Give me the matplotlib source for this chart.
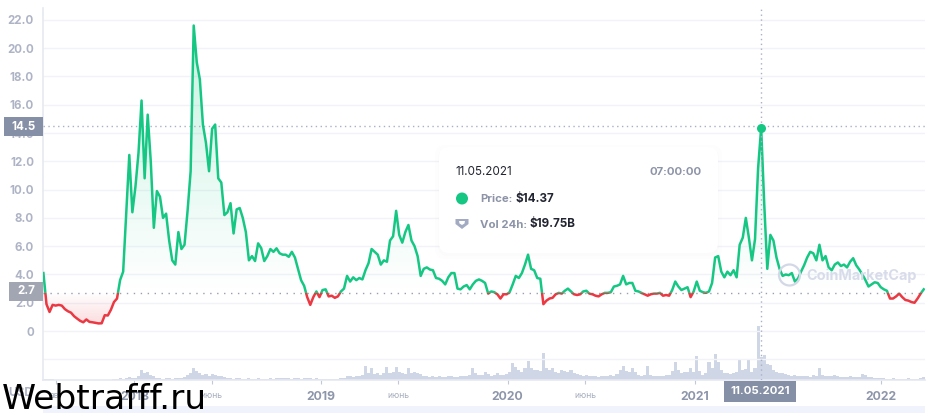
#!/usr/bin/env python3
"""Price and volume chart with tooltip, CoinMarketCap style."""

import matplotlib
matplotlib.use('Agg')
import matplotlib.pyplot as plt
import matplotlib.dates as mdates
import numpy as np
import pandas as pd
from matplotlib.patches import Circle, FancyBboxPatch, Polygon, Rectangle
from matplotlib.path import Path

plt.rcParams['font.family'] = ['Inter', 'DejaVu Sans']

# one reading every 6 days from the start of the series
start_date = '2017-07-07'
step_days = 6

price = [
    4.1, 1.9, 1.35, 1.85, 1.8, 1.85, 1.8, 1.55, 1.4, 1.3, 1.05, 0.88, 0.72, 0.62, 0.82, 0.65, 0.62, 0.58, 0.54, 0.55,
    1.12, 1.1, 1.5, 2.05, 2.3, 3.6, 4.2, 8.3, 12.45, 8.4, 10.2, 12.6, 16.3, 10.8, 15.3, 12.0, 7.3, 9.9, 9.5, 8.0,
    8.3, 6.4, 5.0, 4.7, 7.0, 5.8, 6.1, 8.5, 11.3, 21.6, 19.0, 17.8, 14.6, 13.3, 11.3, 14.3, 14.6, 10.8, 10.5, 8.2,
    8.4, 9.04, 6.9, 8.6, 8.7, 8.0, 7.0, 5.0, 5.3, 4.95, 6.2, 5.87, 4.95, 5.3, 5.8, 5.6, 5.85, 5.5, 5.4, 5.4,
    5.25, 5.6, 5.2, 4.4, 3.6, 3.2, 2.4, 1.85, 2.4, 2.8, 2.4, 2.9, 2.95, 2.45, 2.5, 2.35, 2.45, 2.8, 3.0, 3.9,
    3.5, 3.8, 3.6, 3.75, 3.65, 4.3, 4.8, 5.8, 5.6, 5.4, 4.7, 5.0, 4.9, 6.4, 6.7, 8.5, 6.8, 6.25, 7.0, 7.5,
    6.4, 6.0, 5.3, 3.9, 4.4, 4.5, 4.35, 4.3, 3.75, 3.7, 3.55, 3.3, 3.8, 4.1, 4.1, 3.0, 2.95, 3.15, 3.25, 2.95,
    3.3, 3.55, 3.65, 3.55, 3.4, 2.65, 2.8, 2.75, 2.6, 2.3, 2.6, 2.6, 2.75, 3.3, 3.9, 3.75, 4.1, 4.7, 5.4, 4.4,
    4.3, 3.75, 3.7, 1.9, 2.15, 2.3, 2.35, 2.6, 2.7, 2.65, 2.85, 3.0, 2.8, 2.6, 2.55, 2.6, 2.8, 2.85, 2.65, 2.6,
    2.5, 2.45, 2.6, 2.7, 2.7, 2.75, 3.15, 3.2, 3.3, 3.9, 3.3, 3.4, 3.4, 2.85, 2.8, 2.7, 2.6, 2.5, 2.6, 2.65,
    2.65, 2.7, 2.5, 2.55, 2.5, 2.9, 3.5, 3.15, 2.9, 3.0, 3.1, 2.4, 2.8, 3.5, 2.85, 2.75, 2.7, 2.8, 3.4, 5.2,
    5.3, 4.2, 3.8, 4.2, 3.95, 4.3, 3.8, 6.1, 6.6, 8.0, 6.6, 5.0, 6.5, 11.5, 14.37, 9.0, 4.4, 6.8, 6.4, 5.2,
    4.4, 3.9, 4.0, 3.95, 4.1, 3.5, 3.7, 4.2, 4.65, 5.2, 5.6, 5.5, 5.0, 6.1, 5.0, 5.3, 4.5, 4.3, 4.7, 4.85,
    4.6, 4.7, 4.5, 4.9, 5.15, 4.65, 4.35, 4.0, 3.6, 3.15, 3.3, 3.45, 3.4, 3.1, 2.95, 2.85, 2.3, 2.3, 2.45, 2.65,
    2.4, 2.2, 2.15, 2.05, 2.0, 2.3, 2.65, 2.95,
]

# 24h volume, $ billions
volume = [
    0.3, 0.3, 0.3, 0.3, 0.05, 0.05, 0.05, 0.05, 0.05, 0.05, 0.05, 0.05, 0.05, 0.05, 0.05, 0.05, 0.05, 0.05, 0.05, 0.05,
    0.05, 0.05, 0.05, 0.3, 0.4, 0.7, 0.5, 0.7, 1.0, 0.7, 0.9, 1.5, 3.6, 2.5, 2.9, 1.8, 1.4, 0.8, 0.7, 0.5,
    0.6, 0.8, 0.5, 0.7, 0.9, 0.8, 1.0, 1.8, 2.6, 4.4, 3.2, 2.6, 1.8, 2.2, 1.5, 2.1, 1.7, 1.3, 1.6, 1.0,
    0.8, 0.7, 0.5, 0.8, 0.6, 0.4, 0.5, 0.7, 0.4, 0.5, 0.6, 0.4, 0.4, 0.5, 0.6, 0.5, 0.6, 0.7, 0.8, 0.7,
    0.6, 0.5, 0.7, 0.6, 0.5, 0.7, 0.6, 0.7, 0.5, 0.6, 0.5, 0.4, 0.4, 0.3, 0.4, 0.3, 0.4, 0.6, 0.8, 1.3,
    1.5, 1.1, 1.6, 1.4, 1.8, 5.0, 2.5, 4.3, 2.2, 2.5, 2.0, 2.6, 4.7, 2.5, 3.0, 4.7, 3.0, 2.5, 2.2, 4.4,
    2.5, 2.8, 2.4, 2.2, 1.6, 1.4, 1.1, 1.4, 1.0, 1.5, 1.2, 1.1, 1.4, 1.6, 1.2, 1.0, 1.4, 1.5, 1.3, 2.0,
    4.3, 2.6, 2.0, 1.8, 2.8, 2.2, 1.5, 1.8, 2.5, 2.0, 1.7, 2.1, 2.9, 6.2, 4.7, 3.5, 3.0, 4.5, 6.9, 4.4,
    3.5, 3.5, 3.2, 9.8, 4.4, 3.6, 4.4, 3.0, 2.6, 3.8, 3.3, 2.8, 3.6, 2.5, 2.2, 1.8, 1.5, 1.8, 1.5, 1.4,
    1.3, 1.1, 1.5, 1.4, 1.6, 1.8, 1.6, 2.2, 3.5, 5.1, 3.2, 2.8, 4.5, 3.0, 1.8, 1.6, 2.0, 5.1, 2.0, 1.6,
    1.4, 1.5, 1.6, 1.8, 2.0, 3.2, 6.5, 3.5, 2.5, 3.0, 2.8, 4.5, 2.8, 8.7, 3.2, 2.0, 2.4, 6.5, 4.5, 9.5,
    6.5, 3.6, 2.5, 2.6, 2.2, 2.5, 2.8, 7.3, 3.5, 4.0, 7.6, 3.0, 4.3, 19.75, 8.4, 9.1, 6.0, 5.4, 3.5, 2.8,
    2.5, 2.6, 2.3, 1.8, 1.6, 1.7, 1.4, 1.3, 1.5, 1.4, 1.2, 1.8, 1.5, 4.4, 2.0, 1.6, 1.4, 1.5, 1.7, 1.3,
    1.2, 1.1, 1.2, 1.4, 1.1, 1.0, 1.2, 2.2, 1.8, 1.2, 1.0, 0.9, 0.8, 0.6, 0.7, 0.5, 0.5, 0.6, 0.5, 0.4,
    0.5, 0.5, 0.6, 0.4, 0.5, 0.5, 0.9, 1.1,
]

y_ticks = [0, 2, 4, 6, 8, 10, 12, 14, 16, 18, 20, 22]
y_grid_extra = [-2]
x_tick_dates = ['2017-08-01', '2018-01-01', '2018-06-01', '2019-01-01', '2019-06-01', '2020-01-01', '2020-06-01',
                '2021-01-01', '2022-01-01']
x_tick_labels = ['авг', '2018', 'июнь', '2019', 'июнь', '2020', 'июнь', '2021', '2022']
baseline = 2.7
hover_price = 14.5
hover_date = '2021-05-11'

# Colors
green = '#16c784'
red = '#ea3943'
grid_c = '#f1f3f8'
axis_c = '#e6e9f2'
label_c = '#aeb4c6'
year_c = '#8e96ab'
box_c = '#858fa5'
vol_c = '#cfd6e6'
dot_c = '#a9afc6'

W, H = 932, 413
fig = plt.figure(figsize=(W / 100, H / 100), dpi=100, facecolor='white')
ax = fig.add_axes([43 / W, 1 - 380 / H, (925 - 43) / W, (380 - 8) / H])
ax2 = ax.twinx()
ax.set_zorder(2)
ax.patch.set_visible(False)
ax2.set_zorder(1)

dates = pd.date_range(start_date, periods=len(price), freq=f'{step_days}D')
x = mdates.date2num(dates)
y = np.array(price)
x0, x1 = x[0] - 0.8, x[-1] + 2.5
y0, y1 = -3.46, 22.84

# volume
ax2.bar(x, volume, width=step_days, color=vol_c, linewidth=0)
ax2.set_ylim(0, 135.3)
ax2.set_yticks([])
for s in ax2.spines.values():
    s.set_visible(False)

# gridlines
for v in y_ticks + y_grid_extra:
    ax.axhline(v, color=grid_c, lw=1.0, zorder=1)


def gradient_fill(where, rgb, y_far, a_far):
    # fill between the line and the baseline, fading out towards the baseline
    poly = ax.fill_between(x, y, baseline, where=where, interpolate=True, color='none', linewidth=0)
    n = 256
    lo, hi = min(baseline, y_far), max(baseline, y_far)
    alpha = np.linspace(0, a_far, n) if y_far < baseline else np.linspace(a_far, 0, n)
    img = np.zeros((n, 2, 4))
    img[:, :, :3] = matplotlib.colors.to_rgb(rgb)
    img[:, :, 3] = alpha[:, None]
    im = ax.imshow(img, extent=[x0, x1, lo, hi], aspect='auto', origin='upper', zorder=2)
    im.set_clip_path(Path.make_compound_path(*poly.get_paths()), transform=ax.transData)


gradient_fill(y >= baseline, green, y.max(), 0.24)
gradient_fill(y <= baseline, red, y.min(), 0.17)

# price line, split at the baseline
up, = ax.plot(x, y, color=green, lw=1.8, zorder=4, solid_joinstyle='round')
down, = ax.plot(x, y, color=red, lw=1.8, zorder=4, solid_joinstyle='round')
up.set_clip_path(Rectangle((x0, baseline), x1 - x0, y1 - baseline, transform=ax.transData))
down.set_clip_path(Rectangle((x0, y0), x1 - x0, baseline - y0, transform=ax.transData))

# crosshair and reference lines
hx = mdates.date2num(pd.Timestamp(hover_date))
ax.axhline(hover_price, color=dot_c, lw=1.0, ls=(0, (1, 2.5)), zorder=3)
ax.axhline(baseline, color='#9a9fae', lw=1.0, ls=(0, (1, 4)), zorder=3)
ax.axvline(hx, color=dot_c, lw=1.0, ls=(0, (1, 2.5)), zorder=5)
ax.plot([hx], [price[list(dates).index(pd.Timestamp(hover_date))]], 'o', color=green, ms=6.5, mew=0, zorder=6)

ax.set_xlim(x0, x1)
ax.set_ylim(y0, y1)
ax.set_yticks(y_ticks)
ax.set_yticklabels(['0' if v == 0 else f'{v:.1f}' for v in y_ticks], fontsize=8.3, fontweight='bold', color=label_c)
ax.set_xticks(mdates.date2num(pd.to_datetime(x_tick_dates)))
ax.set_xticklabels(x_tick_labels)
for lab, txt in zip(ax.get_xticklabels(), x_tick_labels):
    if txt.isdigit():
        lab.set_fontsize(8.8)
        lab.set_fontweight('bold')
        lab.set_color(year_c)
    else:
        lab.set_fontsize(6.2)
        lab.set_color('#a7adbd')
ax.tick_params(axis='y', length=0, pad=6.5)
ax.tick_params(axis='x', length=3, width=0.8, color='#c3c8d6', pad=5)
for name, s in ax.spines.items():
    s.set_visible(name in ('left', 'bottom'))
    s.set_color(axis_c)
    s.set_linewidth(1.2)

# overlay in picture pixels for tooltip, badges and watermarks
ov = fig.add_axes([0, 0, 1, 1], zorder=10)
ov.set_xlim(0, W)
ov.set_ylim(H, 0)
ov.axis('off')
ov.patch.set_visible(False)


def badge(x, y, w, h, fc, txt, size=8.3):
    ov.add_patch(Rectangle((x, y), w, h, fc=fc, ec='none'))
    ov.text(x + w / 2, y + h / 2, txt, ha='center', va='center', fontsize=size, fontweight='bold', color='white')


badge(4, 117, 39, 19, box_c, '14.5')
badge(9, 282, 34, 19, '#a2a6b2', '2.7')
badge(724, 381, 72, 21, box_c, '11.05.2021', 8.2)

# bottom navigator strip
ov.add_patch(Rectangle((43, 406), 882, 7, fc='#f0f3fc', ec='none'))
ov.text(21, 393, 'USD', ha='center', va='center', fontsize=8.5, fontweight='bold', color=label_c)

# tooltip with soft shadow
tx, ty, tw, th = 439, 147, 279, 106
for grow, a in [(12, 0.006), (9, 0.008), (6, 0.01), (3, 0.012)]:
    ov.add_patch(FancyBboxPatch((tx - grow + 8, ty - grow + 10), tw + 2 * grow - 16, th + 2 * grow - 16,
                                boxstyle='round,pad=0,rounding_size=10', fc='#58667e', ec='none', alpha=a))
ov.add_patch(FancyBboxPatch((tx + 8, ty + 8), tw - 16, th - 16, boxstyle='round,pad=8,rounding_size=10',
                            fc='white', ec='none'))
ov.text(455, 172, '11.05.2021', ha='left', va='center', fontsize=8.4, color='#222531')
ov.text(702, 172, '07:00:00', ha='right', va='center', fontsize=8.2, fontweight='bold', color='#8d94a8')
ov.add_patch(Circle((462, 198.5), 6, fc=green, ec='none'))
ov.text(480, 199, 'Price:', ha='left', va='center', fontsize=8.2, fontweight='bold', color='#8d94a8')
ov.text(516, 199, '$14.37', ha='left', va='center', fontsize=8.4, fontweight='bold', color='#222531')
ov.add_patch(Polygon([(455.5, 219), (468.5, 219), (468.5, 224), (462, 229), (455.5, 224)], closed=True,
                     fc='#a3abc2', ec='none'))
ov.add_patch(Polygon([(459, 221), (465, 221), (464.5, 223.5), (462, 225), (459.5, 223.5)], closed=True,
                     fc='white', ec='none'))
ov.text(480, 224.5, 'Vol 24h:', ha='left', va='center', fontsize=8.2, fontweight='bold', color='#8d94a8')
ov.text(530, 224.5, '$19.75B', ha='left', va='center', fontsize=8.4, fontweight='bold', color='#222531')

# CoinMarketCap mark
ov.add_patch(Circle((789.5, 275), 10.5, fc='none', ec='#d3d8e6', lw=1.6))
ov.text(806, 275.5, 'CoinMarketCap', ha='left', va='center', fontsize=10.4, fontweight='bold', color='#d8dcea')

# site stamp
ov.text(2, 409, 'Webtrafff.ru', ha='left', va='baseline', fontsize=24.8, color='black', family='DejaVu Sans')

fig.savefig('out.png', dpi=100)
print(len(price), len(volume))
